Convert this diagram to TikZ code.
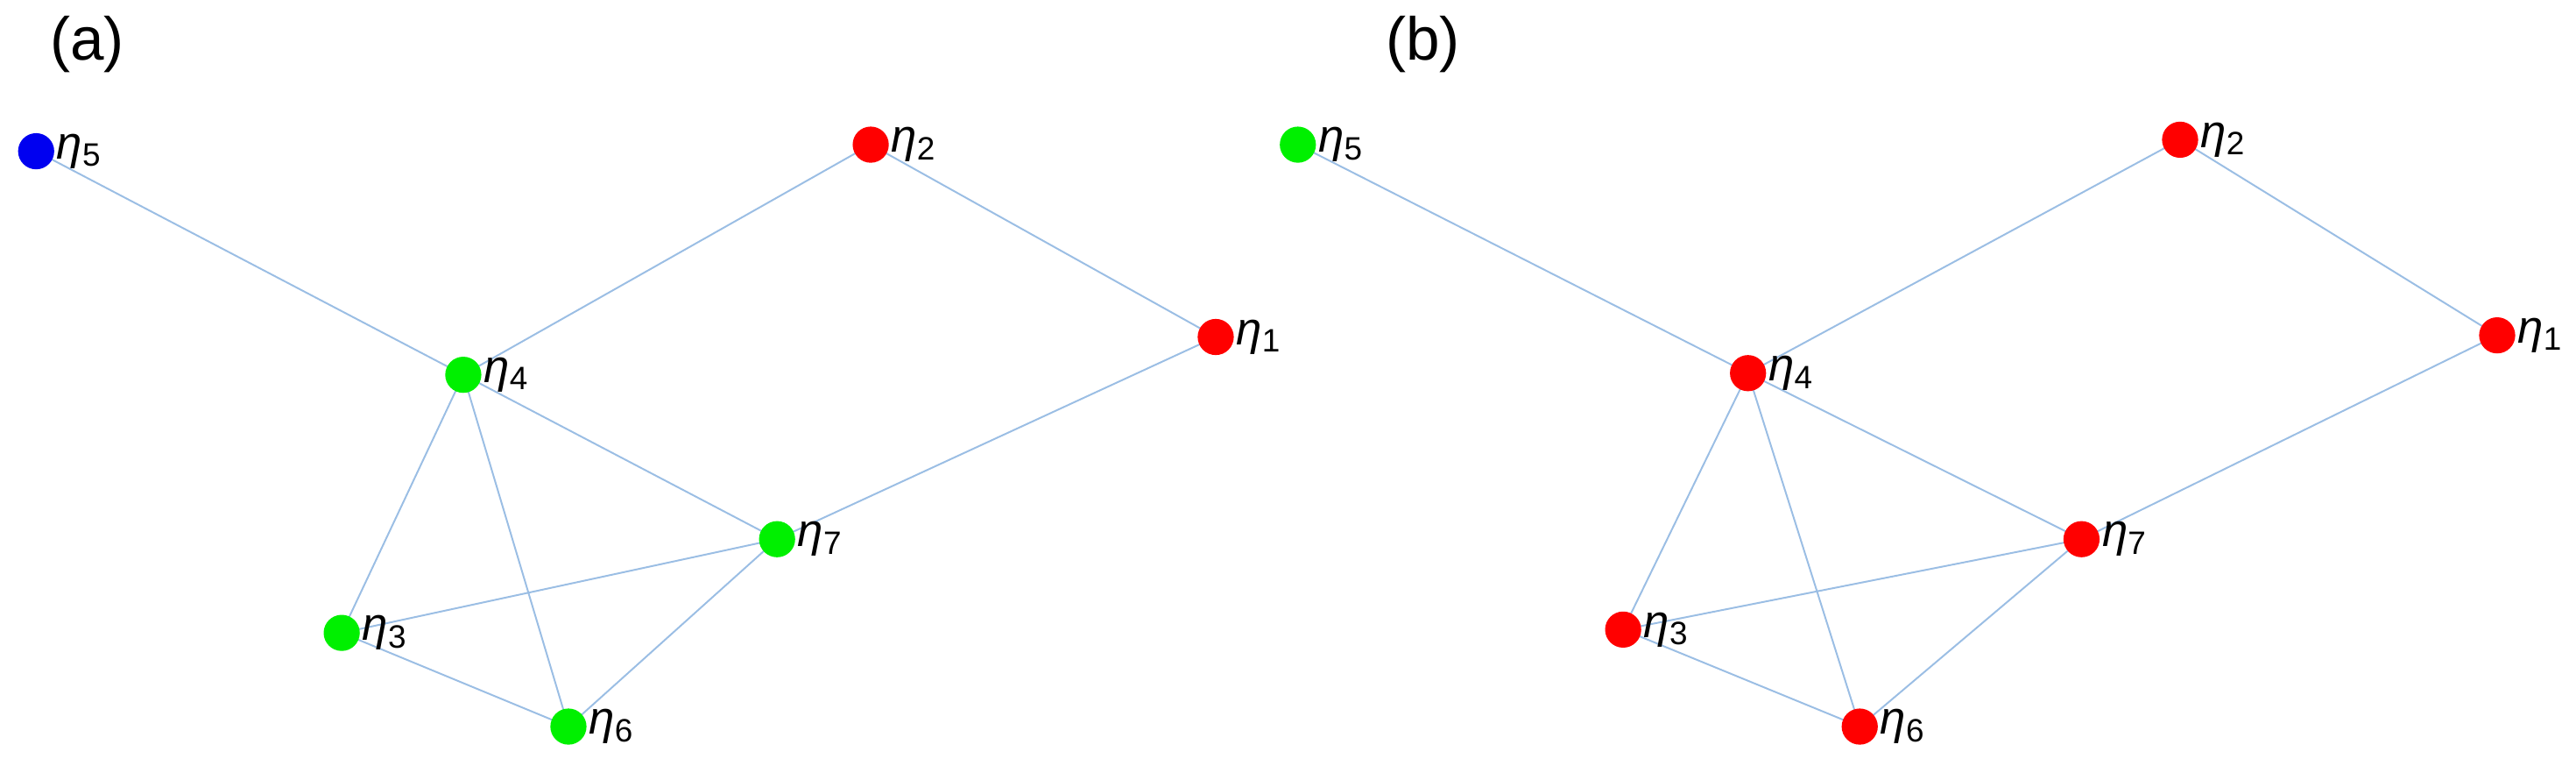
\documentclass[tikz,border=0pt]{standalone}
\usepackage{fontspec}
\setmainfont{Liberation Sans}
\begin{document}
\begin{tikzpicture}[x=0.02cm,y=-0.02cm]
\definecolor{edgec}{RGB}{155,190,228}
\definecolor{gr}{RGB}{0,240,0}
\definecolor{rd}{RGB}{255,0,0}
\definecolor{bl}{RGB}{0,0,240}
\tikzset{v/.style={circle,inner sep=0pt,minimum size=0.44cm},
  lab/.style={font=\fontsize{16}{18}\selectfont,inner sep=0.5pt,anchor=west},
  ed/.style={draw=edgec,line width=0.6pt}}
\useasboundingbox (0,0) rectangle (1568,470);
\node[font=\fontsize{21}{24}\selectfont] (ta) at (53,27) {(a)};
\node[font=\fontsize{21}{24}\selectfont] (tb) at (866,27) {(b)};
\foreach \p/\cA/\cB/\xo in {a/bl/gr/0,b/gr/rd/1}{
  \ifnum\xo=0
   \coordinate (\p5) at (22,92); \coordinate (\p2) at (530,88); \coordinate (\p1) at (740,205);
   \coordinate (\p4) at (282,228); \coordinate (\p7) at (473,328); \coordinate (\p3) at (208,385); \coordinate (\p6) at (346,442);
  \else
   \coordinate (\p5) at (790,88); \coordinate (\p2) at (1327,85); \coordinate (\p1) at (1520,204);
   \coordinate (\p4) at (1064,227); \coordinate (\p7) at (1267,328); \coordinate (\p3) at (988,383); \coordinate (\p6) at (1132,442);
  \fi
  \draw[ed] (\p5)--(\p4) (\p2)--(\p4) (\p2)--(\p1) (\p1)--(\p7) (\p4)--(\p7) (\p4)--(\p3) (\p4)--(\p6) (\p3)--(\p7) (\p3)--(\p6) (\p6)--(\p7);
}
\foreach \n in {5}{\node[v,fill=bl] (na\n) at (a\n) {}; \node[lab] at (na\n.east) {{\itshape η}\textsubscript{\n}};}
\foreach \n in {1,2}{\node[v,fill=rd] (na\n) at (a\n) {}; \node[lab] at (na\n.east) {{\itshape η}\textsubscript{\n}};}
\foreach \n in {3,4,6,7}{\node[v,fill=gr] (na\n) at (a\n) {}; \node[lab] at (na\n.east) {{\itshape η}\textsubscript{\n}};}
\foreach \n in {5}{\node[v,fill=gr] (nb\n) at (b\n) {}; \node[lab] at (nb\n.east) {{\itshape η}\textsubscript{\n}};}
\foreach \n in {1,2,3,4,6,7}{\node[v,fill=rd] (nb\n) at (b\n) {}; \node[lab] at (nb\n.east) {{\itshape η}\textsubscript{\n}};}
\end{tikzpicture}
\end{document}
